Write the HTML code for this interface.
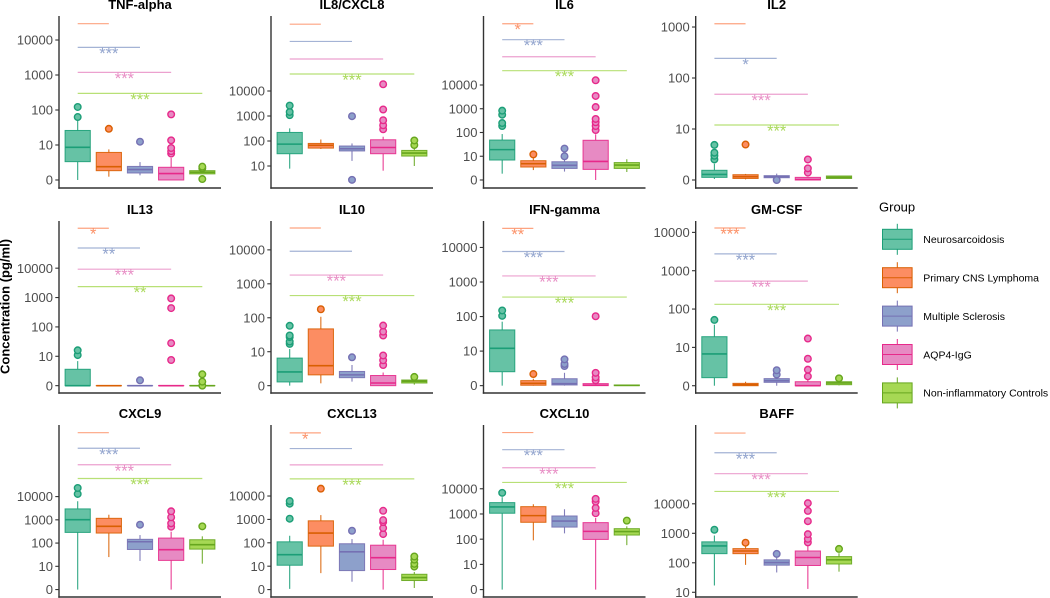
<!DOCTYPE html>
<html>
<head>
<meta charset="utf-8">
<title>Cytokine concentrations by group</title>
<style>
html,body{margin:0;padding:0;background:#fff;}
svg{display:block;filter:blur(0.35px);}
text{font-family:"Liberation Sans",sans-serif;}
</style>
</head>
<body>
<svg id="chart" xmlns="http://www.w3.org/2000/svg" width="1050" height="598" viewBox="0 0 1050 598">
  <text transform="translate(9.5,306.5) rotate(-90)" text-anchor="middle" font-size="13" font-weight="bold" fill="#000">Concentration (pg/ml)</text>
</svg>
<script>
// ---- categories ----
const groups = ["Neurosarcoidosis", "Primary CNS Lymphoma", "Multiple Sclerosis", "AQP4-IgG", "Non-inflammatory Controls"];
const panelTitles = ["TNF-alpha", "IL8/CXCL8", "IL6", "IL2", "IL13", "IL10", "IFN-gamma", "GM-CSF", "CXCL9", "CXCL13", "CXCL10", "BAFF"];

// ---- tick labels ----
const ticksFromZero = [0, 10, 100, 1000, 10000];
const ticksFromTen = [10, 100, 1000, 10000];
const ticksTo1000 = [0, 10, 100, 1000];

// ---- each panel: box stats [low whisker, q1, median, q3, high whisker], outliers, bracket levels, stars ----
const tnfBoxes = [[0,2.6,8.4,26,50],[0.27,0.94,1.56,5.7,7.2],[0.4,0.65,1.1,1.6,2.5],[0,0,0.58,1.45,3.6],[0.55,0.55,0.73,0.94,1.0]];
const tnfOutliers = [[63,122],[29],[12.4],[5.2,6.3,8,13.6,75],[0.07,1.3,1.56]];
const tnfLevels = [29300,6170,1190,299];
const tnfStars = ["","***","***","***"];
const tnfDomain = [-0.229,4.686];

const il8Boxes = [[7.6,31,75,220,320],[48,52,67,80,115],[16,40,49,63,80],[6.1,31,55,112,148],[10,25,33,42,50]];
const il8Outliers = [[1080,1450,2600],[],[2.0,980],[295,427,676,1820,18600],[69,105]];
const il8Levels = [4700000,960000,190000,48000];
const il8Stars = ["","","","***"];
const il8Domain = [0.12,7.0];

const il6Boxes = [[0.94,6.6,19,48,86],[1.8,2.8,4.3,6.1,8.9],[1.4,2.3,3.5,5.4,7.7],[0,2.0,5.6,47,84],[1.3,2.3,3.6,4.9,7.2]];
const il6Outliers = [[188,250,562,830],[12],[10,21],[127,188,269,372,1180,3450,15800],[]];
const il6Levels = [3800000,810000,155000,40000];
const il6Stars = ["*","***","","***"];
const il6Domain = [-0.337,6.905];

const il2Boxes = [[0.05,0.14,0.32,0.61,1.2],[0.03,0.08,0.18,0.30,0.35],[0.12,0.12,0.18,0.24,0.37],[0,0,0.02,0.14,0.16],[0.08,0.08,0.14,0.22,0.24]];
const il2Outliers = [[1.7,2.2,2.7,4.3],[4.4],[0],[0.44,0.77,1.7],[]];
const il2Levels = [1160,243,48,12];
const il2Stars = ["","*","***","***"];
const il2Domain = [-0.157,3.216];

const il13Boxes = [[0,0,0,2.9,6.5],[0,0,0,0,0],[0,0,0,0,0],[0,0,0,0,0],[0,0,0,0,0]];
const il13Outliers = [[11,16],[],[0.58],[7.2,28,437,933],[0,0.41,1.6]];
const il13Levels = [229000,48500,9250,2350];
const il13Stars = ["*","**","***","**"];
const il13Domain = [-0.25,5.606];

const il10Boxes = [[0,0.32,1.7,6.1,12],[0.19,1.2,3.2,47,107],[0.35,0.8,1.2,1.8,3.4],[0,0,0.22,1.1,1.6],[0.08,0.22,0.38,0.52,0.6]];
const il10Outliers = [[17,20,27,30,58],[178],[6.5],[3.4,5.1,7.5,30,39,59],[0.9]];
const il10Levels = [44000,9100,1810,450];
const il10Stars = ["","","***","***"];
const il10Domain = [-0.216,4.85];

const ifnBoxes = [[0,1.7,12,41,71],[0,0.03,0.19,0.44,0.65],[0,0.05,0.16,0.65,1.5],[0,0,0.03,0.16,0.25],[0,0,0.02,0.05,0.07]];
const ifnOutliers = [[105,150],[1.3],[3,3.6,5.3],[0.47,0.83,1.5,102],[]];
const ifnLevels = [35700,7640,1500,366];
const ifnStars = ["**","***","***","***"];
const ifnDomain = [-0.213,4.766];

const gmcsfBoxes = [[0,0.69,6.4,19,39],[0,0,0.07,0.17,0.3],[0,0.25,0.39,0.59,0.88],[0,0,0,0.3,0.45],[0.02,0.07,0.2,0.3,0.45]];
const gmcsfOutliers = [[52],[],[1.06,1.7],[0.84,1.8,4.5,17],[0.62]];
const gmcsfLevels = [13000,2750,535,133];
const gmcsfStars = ["***","***","***","***"];
const gmcsfDomain = [-0.19,4.297];

const cxcl9Boxes = [[0,288,1010,2950,6300],[25,270,525,1160,1660],[17,53,114,145,221],[0,18,52,164,309],[13,55,85,139,195]];
const cxcl9Outliers = [[13000,23500],[],[617],[507,708,1290,2330],[525]];
const cxcl9Levels = [5600000,1200000,234000,60000];
const cxcl9Stars = ["","***","***","***"];
const cxcl9Domain = [-0.32,7.08];

const cxcl13Boxes = [[0.08,11,31,110,200],[4.5,72,260,870,1530],[1.3,6.1,41,91,144],[0,6.9,23,79,135],[0.19,1.6,2.5,3.9,5.2]];
const cxcl13Outliers = [[1070,4700,6100],[20600],[327],[236,427,770,930,2340],[9.6,12.6,19,26]];
const cxcl13Levels = [5000000,1070000,214000,54000];
const cxcl13Stars = ["*","","","***"];
const cxcl13Domain = [-0.317,7.036];

const cxcl10Boxes = [[0,1070,1900,2820,4620],[90,468,861,1950,2430],[170,302,525,832,1540],[0,98,204,453,692],[58,146,200,261,324]];
const cxcl10Outliers = [[6900],[],[],[1070,1740,3090,3980],[545]];
const cxcl10Levels = [1700000,355000,68000,17800];
const cxcl10Stars = ["","***","***","***"];
const cxcl10Domain = [-0.294,6.53];

const baffBoxes = [[17,204,372,513,841],[85,204,251,302,355],[47,83,102,126,158],[13,81,151,251,372],[50,91,126,162,211]];
const baffOutliers = [[1320],[479],[200],[490,646,933,2570,5750,10500],[295]];
const baffLevels = [2500000,537000,105000,26300];
const baffStars = ["","***","***","***"];
const baffDomain = [0.84,6.672];

const allTicks = [ticksFromZero,ticksFromTen,ticksFromZero,ticksTo1000,ticksFromZero,ticksFromZero,ticksFromZero,ticksFromZero,ticksFromZero,ticksFromZero,ticksFromZero,ticksFromTen];
const allBoxes = [tnfBoxes,il8Boxes,il6Boxes,il2Boxes,il13Boxes,il10Boxes,ifnBoxes,gmcsfBoxes,cxcl9Boxes,cxcl13Boxes,cxcl10Boxes,baffBoxes];
const allOutliers = [tnfOutliers,il8Outliers,il6Outliers,il2Outliers,il13Outliers,il10Outliers,ifnOutliers,gmcsfOutliers,cxcl9Outliers,cxcl13Outliers,cxcl10Outliers,baffOutliers];
const allLevels = [tnfLevels,il8Levels,il6Levels,il2Levels,il13Levels,il10Levels,ifnLevels,gmcsfLevels,cxcl9Levels,cxcl13Levels,cxcl10Levels,baffLevels];
const allStars = [tnfStars,il8Stars,il6Stars,il2Stars,il13Stars,il10Stars,ifnStars,gmcsfStars,cxcl9Stars,cxcl13Stars,cxcl10Stars,baffStars];
const allDomains = [tnfDomain,il8Domain,il6Domain,il2Domain,il13Domain,il10Domain,ifnDomain,gmcsfDomain,cxcl9Domain,cxcl13Domain,cxcl10Domain,baffDomain];

// ---- styling ----
const fills = ["#66c2a5","#fc8d62","#8da0cb","#e78ac3","#a6d854"];
const strokes = ["#1b9e77","#d95f02","#7570b3","#e7298a","#66a61e"];
const SVGNS = "http://www.w3.org/2000/svg";
const svg = document.getElementById("chart");
const panelWidth = 162;
const panelHeight = 172;

function make(tag, attrs, parent) {
  const el = document.createElementNS(SVGNS, tag);
  for (const k in attrs) el.setAttribute(k, attrs[k]);
  parent.appendChild(el);
  return el;
}
function slug(s) {
  return s.toLowerCase().replace(/[^a-z0-9]+/g, "-");
}
// pseudo-log transform: linear-ish below ten, log10 above
function transform(v) {
  return v < 10 ? Math.log10(1 + 0.9 * v) : Math.log10(v);
}
function yAxisScale(domain, top) {
  const bottom = top + panelHeight;
  return function (v) {
    return bottom - (transform(v) - domain[0]) / (domain[1] - domain[0]) * panelHeight;
  };
}
function xAxisScale(left) {
  const step = panelWidth / 5.2;
  return function (i) {
    return left + step * (0.6 + i);
  };
}

function drawBox(parent, cx, halfWidth, y, stats, color, fill) {
  const yLow = y(stats[0]), yQ1 = y(stats[1]), yMed = y(stats[2]), yQ3 = y(stats[3]), yHigh = y(stats[4]);
  const w1 = make("line", {x1: cx, x2: cx, y1: yQ1, y2: yLow, stroke: color, "stroke-width": 1.1, "stroke-opacity": 0.9}, parent);
  
  
  const w2 = make("line", {x1: cx, x2: cx, y1: yQ3, y2: yHigh, stroke: color, "stroke-width": 1.1, "stroke-opacity": 0.9}, parent);
  
  
  const rect = make("rect", {x: cx - halfWidth, y: yQ3, width: halfWidth * 2, height: Math.max(yQ1 - yQ3, 0.01), fill: fill, stroke: color, "stroke-width": 1, "stroke-opacity": 0.9}, parent);
  
  
  const med = make("line", {x1: cx - halfWidth, x2: cx + halfWidth, y1: yMed, y2: yMed, stroke: color, "stroke-width": 1.6}, parent);
  
  
}

allBoxes.forEach(function (boxes, p) {
  const col = p % 4;
  const row = Math.floor(p / 4);
  const left = [59, 271, 483.5, 695.7][col];
  const top = [16, 221, 425][row];
  const bottom = top + panelHeight;
  const y = yAxisScale(allDomains[p], top);
  const x = xAxisScale(left);
  const halfWidth = 12.6;

  const g = make("g", {}, svg);
  
  

  const title = make("text", {x: left + 81, y: top - 6.8, "text-anchor": "middle", "font-size": 13, "font-weight": "bold", fill: "#000"}, g);
  
  
  title.textContent = panelTitles[p];

  allLevels[p].forEach(function (level, k) {
    const ly = y(level);
    const bracket = make("line", {x1: x(0), x2: x(k + 1), y1: ly, y2: ly, stroke: fills[k + 1], "stroke-width": 1.2, "stroke-opacity": 0.8}, g);
    
    
    if (allStars[p][k]) {
      const star = make("text", {x: (x(0) + x(k + 1)) / 2, y: ly + 11.5, "text-anchor": "middle", "font-size": 16.5, fill: fills[k + 1], "fill-opacity": 0.95}, g);
      
      
      star.textContent = allStars[p][k];
    }
  });

  boxes.forEach(function (stats, i) {
    const bg = make("g", {}, g);
    
    
    drawBox(bg, x(i), halfWidth, y, stats, strokes[i], fills[i]);
    allOutliers[p][i].forEach(function (v) {
      const dot = make("circle", {cx: x(i), cy: y(v), r: 3.3, fill: fills[i], stroke: strokes[i], "stroke-width": 1.4}, bg);
      
      
    });
  });

  const yAxis = make("line", {x1: left, x2: left, y1: top, y2: bottom + 0.7, stroke: "#333", "stroke-width": 1.4}, g);
  
  
  const xAxis = make("line", {x1: left - 0.7, x2: left + panelWidth, y1: bottom, y2: bottom, stroke: "#333", "stroke-width": 1.4}, g);
  
  

  allTicks[p].forEach(function (t) {
    const ty = y(t);
    const mark = make("line", {x1: left - 3.7, x2: left, y1: ty, y2: ty, stroke: "#333", "stroke-width": 1.1}, g);
    
    
    const label = make("text", {x: left - 6, y: ty + 4.6, "text-anchor": "end", "font-size": 13, fill: "#4d4d4d"}, g);
    
    
    label.textContent = String(t);
  });
});

// ---- legend ----
const legend = make("g", {}, svg);


const legendTitle = make("text", {x: 879, y: 211.7, "font-size": 13, fill: "#000"}, legend);


legendTitle.textContent = "Group";
groups.forEach(function (name, i) {
  const cy = 239.3 + i * 38.4;
  const entry = make("g", {}, legend);
  
  
  const whisker = make("line", {x1: 897.3, x2: 897.3, y1: cy - 15.5, y2: cy + 15.5, stroke: strokes[i], "stroke-width": 1}, entry);
  
  
  const key = make("rect", {x: 882.5, y: cy - 10, width: 29.6, height: 20, fill: fills[i], stroke: strokes[i], "stroke-width": 1}, entry);
  
  
  const mid = make("line", {x1: 882.5, x2: 912.1, y1: cy, y2: cy, stroke: strokes[i], "stroke-width": 1}, entry);
  
  
  const label = make("text", {x: 923.3, y: cy + 3.8, "font-size": 10.5, fill: "#000"}, entry);
  
  
  label.textContent = name;
});
</script>
</body>
</html>
